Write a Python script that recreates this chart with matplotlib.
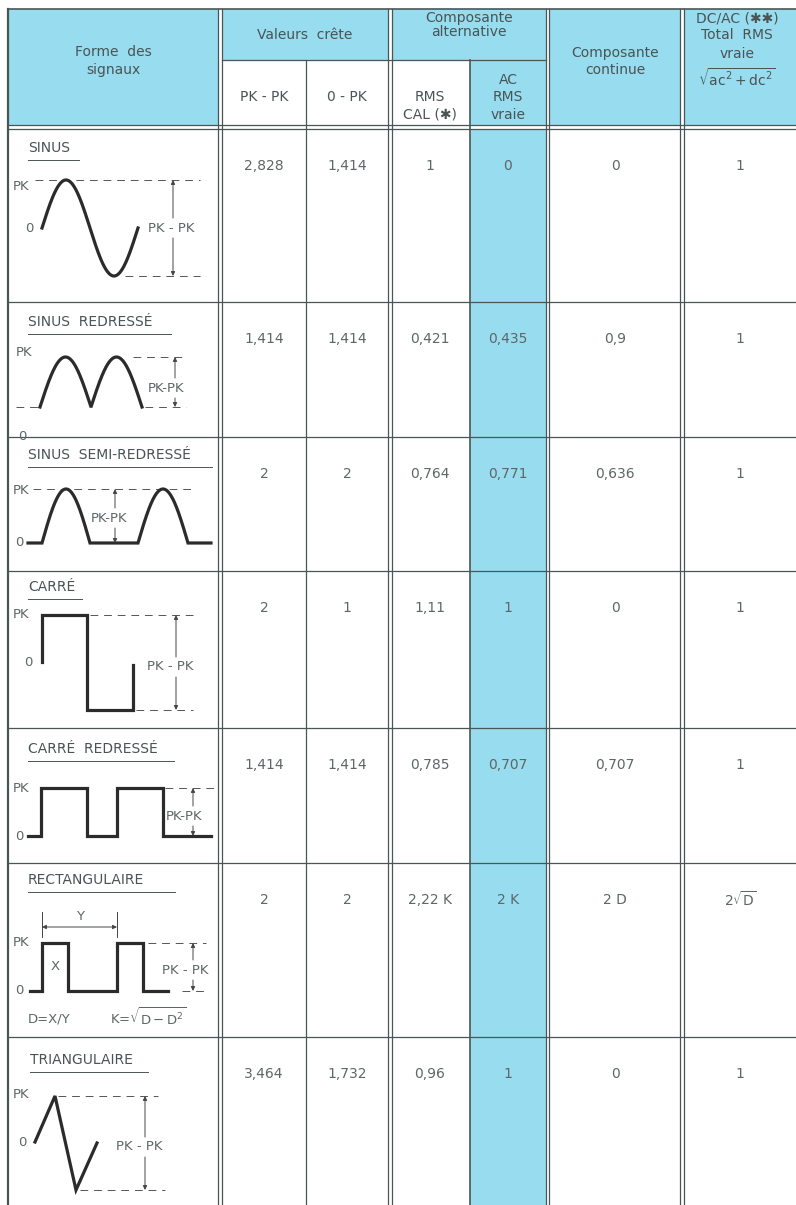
import numpy as np
import matplotlib
matplotlib.use('Agg')
import matplotlib.pyplot as plt
from matplotlib.patches import Rectangle

plt.rcParams['font.family'] = ['DejaVu Sans']
plt.rcParams['mathtext.fontset'] = 'dejavusans'

# table content
signal_names = ['SINUS', 'SINUS  REDRESSÉ', 'SINUS  SEMI-REDRESSÉ', 'CARRÉ',
                'CARRÉ  REDRESSÉ', 'RECTANGULAIRE', 'TRIANGULAIRE']
pk_pk = ['2,828', '1,414', '2', '2', '1,414', '2', '3,464']
zero_pk = ['1,414', '1,414', '2', '1', '1,414', '2', '1,732']
rms_cal = ['1', '0,421', '0,764', '1,11', '0,785', '2,22 K', '0,96']
ac_rms = ['0', '0,435', '0,771', '1', '0,707', '2 K', '1']
dc_comp = ['0', '0,9', '0,636', '0', '0,707', '2 D', '0']
total_rms = ['1', '1', '1', '1', '1', r'2$\sqrt{\mathrm{D}}$', '1']

# layout (pixels)
W, H = 796, 1205
row_tops = [129, 302, 437, 571, 728, 863, 1037, 1205]
col_centers = [264, 347, 430, 508, 615, 740]
CYAN = '#97dcef'
LINE = '#4a5656'
TXT = '#4a5454'
VAL = '#5e6666'

fig = plt.figure(figsize=(W / 100, H / 100), dpi=100)
ax = fig.add_axes([0, 0, 1, 1])
ax.set_xlim(0, W)
ax.set_ylim(H, 0)
ax.axis('off')

# cyan fills
for x0, y0, x1, y1 in [(8, 9, 218, 125), (222, 9, 388, 60), (392, 9, 546, 60),
                       (470, 60, 546, 125), (549, 9, 680, 125), (684, 9, 796, 125),
                       (470, 129, 546, H)]:
    ax.add_patch(Rectangle((x0, y0), x1 - x0, y1 - y0, color=CYAN, lw=0, zorder=0))

# grid lines
def hl(y, x0=8, x1=W, lw=0.9):
    ax.plot([x0, x1], [y, y], color=LINE, lw=lw, zorder=2)

def vl(x, y0=9, y1=H, lw=0.9):
    ax.plot([x, x], [y0, y1], color=LINE, lw=lw, zorder=2)

hl(9, lw=1.2)
hl(60, 222, 546)
hl(125)
hl(129)
for y in row_tops[1:-1]:
    hl(y)
vl(8, lw=1.6)
for x in [218, 222, 388, 392, 546, 549, 680, 684]:
    vl(x)
vl(306, 60)
vl(470, 60, lw=1.2)

# header text
hk = dict(ha='center', va='center', color=TXT, fontsize=10)
ax.text(113, 52, 'Forme  des', **hk)
ax.text(113, 70, 'signaux', **hk)
ax.text(305, 35, 'Valeurs  crête', **hk)
ax.text(264, 97, 'PK - PK', **hk)
ax.text(347, 97, '0 - PK', **hk)
ax.text(469, 18, 'Composante', **hk)
ax.text(469, 32, 'alternative', **hk)
ax.text(430, 97, 'RMS', **hk)
ax.text(430, 115, 'CAL (✱)', **hk)
ax.text(508, 80, 'AC', **hk)
ax.text(508, 97, 'RMS', **hk)
ax.text(508, 115, 'vraie', **hk)
ax.text(615, 53, 'Composante', **hk)
ax.text(615, 70, 'continue', **hk)
ax.text(737, 18, 'DC/AC (✱✱)', **hk)
ax.text(737, 35, 'Total  RMS', **hk)
ax.text(737, 54, 'vraie', **hk)
ax.text(737, 79, r'$\sqrt{\mathrm{ac}^2 + \mathrm{dc}^2}$', **hk)

# values
columns = [pk_pk, zero_pk, rms_cal, ac_rms, dc_comp, total_rms]
for i in range(len(signal_names)):
    for xc, col in zip(col_centers, columns):
        ax.text(xc, row_tops[i] + 37, col[i], ha='center', va='center',
                color=VAL, fontsize=10)

# signal titles with underline
title_pos = [(28, 148, 79), (28, 322, 171), (28, 455, 212), (28, 587, 82),
             (28, 749, 174), (28, 880, 175), (30, 1060, 148)]
for name, (x, y, xe) in zip(signal_names, title_pos):
    ax.text(x, y, name, ha='left', va='center', color=TXT, fontsize=10)
    ax.plot([x, xe], [y + 12, y + 12], color=LINE, lw=0.7)

WK = dict(color='#2b2b2b', lw=2.3, solid_joinstyle='miter', zorder=3)
DK = dict(color='#555', lw=0.7, dashes=(8, 6))
LK = dict(ha='left', va='center', color=VAL, fontsize=9.5)

def pkpk(x, ytop, ybot, ytext, xtext, label='PK - PK'):
    ax.annotate('', xy=(x, ytop), xytext=(x, ytext - 10),
                arrowprops=dict(arrowstyle='-|>', color='#444', lw=0.7,
                                mutation_scale=6, shrinkA=0, shrinkB=0))
    ax.annotate('', xy=(x, ybot), xytext=(x, ytext + 10),
                arrowprops=dict(arrowstyle='-|>', color='#444', lw=0.7,
                                mutation_scale=6, shrinkA=0, shrinkB=0))
    ax.text(xtext, ytext, label, **LK)

# SINUS
t = np.linspace(0, 2 * np.pi, 200)
ax.plot(42 + t / (2 * np.pi) * 96, 228 - 48 * np.sin(t), **WK)
ax.plot([35, 200], [180, 180], **DK)
ax.plot([125, 200], [276, 276], **DK)
ax.text(13, 186, 'PK', **LK)
ax.text(25, 228, '0', **LK)
pkpk(173, 180, 276, 228, 148)

# SINUS REDRESSE
ax.plot(40 + t / (2 * np.pi) * 102, 407 - 50 * np.abs(np.sin(t)), **WK)
ax.plot([16, 40], [407, 407], **DK)
ax.plot([133, 186], [357, 357], **DK)
ax.plot([145, 186], [407, 407], **DK)
ax.text(16, 353, 'PK', **LK)
ax.text(18, 436, '0', **LK)
pkpk(175, 357, 407, 388, 148, 'PK-PK')

# SINUS SEMI-REDRESSE
h = np.linspace(0, np.pi, 100)
xs = np.concatenate([[28], 42 + h / np.pi * 48, 138 + h / np.pi * 50, [211]])
ys = np.concatenate([[543], 543 - 54 * np.sin(h), 543 - 54 * np.sin(h), [543]])
ax.plot(xs, ys, **WK)
ax.plot([33, 195], [489, 489], **DK)
ax.text(13, 490, 'PK', **LK)
ax.text(15, 543, '0', **LK)
pkpk(115, 489, 543, 518, 91, 'PK-PK')

# CARRE
ax.plot([42, 42, 87, 87, 133, 133], [662, 615, 615, 710, 710, 665], **WK)
ax.plot([90, 193], [615, 615], **DK)
ax.plot([136, 193], [710, 710], **DK)
ax.text(13, 615, 'PK', **LK)
ax.text(24, 662, '0', **LK)
pkpk(176, 615, 710, 667, 147)

# CARRE REDRESSE
ax.plot([28, 41, 41, 87, 87, 117, 117, 163, 163, 211],
        [836, 836, 788, 788, 836, 836, 788, 788, 836, 836], **WK)
ax.plot([165, 216], [788, 788], **DK)
ax.text(13, 788, 'PK', **LK)
ax.text(15, 836, '0', **LK)
pkpk(193, 788, 836, 816, 166, 'PK-PK')

# RECTANGULAIRE
ax.plot([30, 42, 42, 68, 68, 117, 117, 143, 143, 168],
        [991, 991, 943, 943, 991, 991, 943, 943, 991, 991], **WK)
ax.plot([148, 206], [943, 943], **DK)
ax.plot([182, 206], [991, 991], **DK)
ax.plot([42, 42], [912, 937], color='#444', lw=0.7)
ax.plot([117, 117], [912, 937], color='#444', lw=0.7)
ax.annotate('', xy=(42, 927), xytext=(117, 927),
            arrowprops=dict(arrowstyle='<|-|>', color='#444', lw=0.7,
                            mutation_scale=6, shrinkA=0, shrinkB=0))
ax.text(80, 916, 'Y', ha='center', va='center', color=VAL, fontsize=9.5)
ax.text(55, 967, 'X', ha='center', va='center', color=VAL, fontsize=9.5)
ax.text(13, 943, 'PK', **LK)
ax.text(15, 991, '0', **LK)
pkpk(193, 943, 991, 970, 162)
ax.text(28, 1019, 'D=X/Y', **LK)
ax.text(110, 1017, r'K=$\sqrt{\mathrm{D}-\mathrm{D}^2}$', **LK)

# TRIANGULAIRE
ax.plot([35, 55, 76, 97], [1142, 1096, 1190, 1143], **WK)
ax.plot([58, 158], [1096, 1096], **DK)
ax.plot([80, 165], [1190, 1190], **DK)
ax.text(13, 1095, 'PK', **LK)
ax.text(18, 1142, '0', **LK)
pkpk(145, 1096, 1190, 1147, 116)

fig.savefig('out.png', dpi=100, facecolor='white')
